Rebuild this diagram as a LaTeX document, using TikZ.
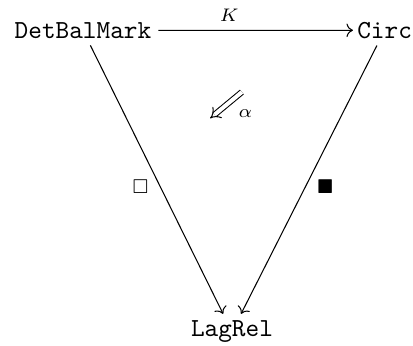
\documentclass[tikz,border=0pt]{standalone}
\usepackage{amsmath}
\usepackage{amssymb}
\usepackage{tikz}
\usetikzlibrary{arrows.meta}

\begin{document}
\begin{tikzpicture}[
    x=1pt,y=1pt,
    obj/.style={font=\ttfamily,anchor=base,inner sep=2.5pt},
    lbl/.style={font=\scriptsize},
    arrow/.style={-{Computer Modern Rightarrow},thin},
    twocell/.style={-{Implies},double,double equal sign distance,thin}
]
\useasboundingbox (0,0) rectangle (158.8,-132.7);
\node[obj] (det) at (31.9,-14.7) {DetBalMark};
\node[obj] (circ) at (147.9,-14.7) {Circ};
\node[obj] (lag) at (89.2,-129.5) {LagRel};
\coordinate (alphaTail) at (93.0,-35.4);
\coordinate (alphaHead) at (80.8,-45.5);
\draw[arrow,shorten >=-1pt] (det) -- node[lbl,above,pos=0.37] {$K$} (circ);
\draw[arrow] (det) -- node[lbl,left=1pt,pos=0.527] {$\square$} (lag);
\draw[arrow] (circ) -- node[lbl,right=1pt,pos=0.527] {$\blacksquare$} (lag);
\draw[twocell] (alphaTail) -- node[lbl,right=6.2pt,inner sep=1.5pt,pos=0.75,yshift=-0.8pt] {$\alpha$} (alphaHead);
\end{tikzpicture}
\end{document}
